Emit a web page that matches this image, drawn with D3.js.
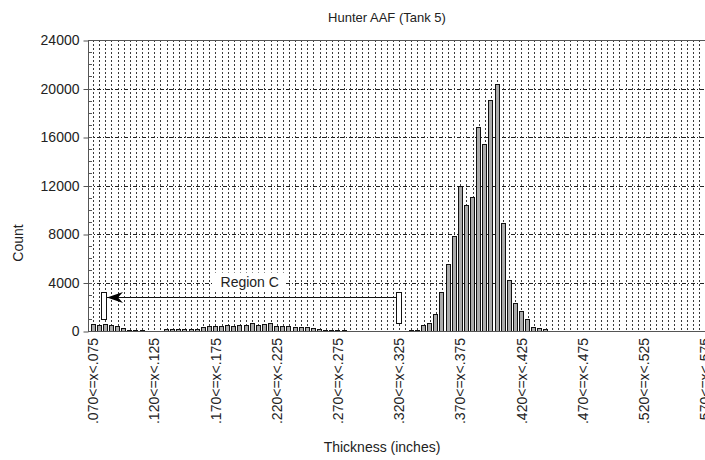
<!DOCTYPE html>
<html>
<head>
<meta charset="utf-8">
<script src="https://cdn.jsdelivr.net/npm/d3@7/dist/d3.min.js"></script>
<style>
  html, body { margin: 0; padding: 0; background: #fff; }
  svg { display: block; font-family: "Liberation Sans", Arial, sans-serif; }
</style>
</head>
<body>
<svg id="chart" width="705" height="460"></svg>
<script>
// ---- data (bins of width .005 starting at .070) ----
const binStart = 0.070;
const binWidth = 0.005;
const counts = [
  560, 470, 560, 500, 440, 250, 80, 70, 60, 40,
  40, 30, 140, 150, 160, 170, 150, 160, 300, 440,
  440, 440, 470, 440, 470, 470, 660, 470, 550, 660,
  385, 385, 385, 330, 330, 300, 220, 140, 110, 80,
  80, 55, 0, 0, 0, 0, 0, 0, 0, 0,
  30, 40, 60, 70, 500, 690, 1370, 3190, 5530, 7830,
  11990, 10360, 11020, 16790, 15420, 19050, 20370, 8880, 4200, 2340,
  1650, 990, 360, 280, 140, 40, 20, 0, 0, 0,
  0, 0, 0, 0, 0, 0, 0, 0, 0, 0,
  0, 0, 0, 0, 0, 0, 0, 0, 0, 0,
  0, 0, 0, 0
];
const tickLabels = [".070<=x<.075", ".120<=x<.125", ".170<=x<.175", ".220<=x<.225", ".270<=x<.275",
  ".320<=x<.325", ".370<=x<.375", ".420<=x<.425", ".470<=x<.475", ".520<=x<.525", ".570<=x<.575"];
const yTicks = [0, 4000, 8000, 12000, 16000, 20000, 24000];
const chartTitle = "Hunter AAF (Tank 5)";
const xTitle = "Thickness (inches)";
const yTitle = "Count";
// annotation (in bin-index / count units)
const regionLabel = "Region C";
const regionFrom = 50, regionTo = 2, regionLevel = 2830;

// ---- layout ----
const svg = d3.select("#chart");
const frameLeft = 88, plotTop = 40, plotBottom = 331;
const step = 6.12;
const n = counts.length;
const xStart = 90;
const categories = counts.map((_, i) => i);

const x = d3.scaleBand().domain(categories).range([xStart, xStart + step * n])
  .paddingInner(0.2).paddingOuter(0.1);
const xi = d3.scaleLinear().domain([0, n]).range([xStart, xStart + step * n]);
const y = d3.scaleLinear().domain([0, 24000]).range([plotBottom, plotTop]);
const plotRight = 720;

// vertical gridlines (one per bin)
svg.append("g").selectAll("line").data(categories).join("line")
  .attr("x1", d => Math.round(x(d) + x.bandwidth() / 2) + 0.5)
  .attr("x2", d => Math.round(x(d) + x.bandwidth() / 2) + 0.5)
  .attr("y1", plotTop).attr("y2", plotBottom)
  .attr("stroke", "#3a3a3a").attr("stroke-width", 1).attr("stroke-dasharray", "2,2");

// horizontal gridlines
svg.append("g").selectAll("line").data(yTicks.slice(1, -1)).join("line")
  .attr("x1", frameLeft).attr("x2", plotRight)
  .attr("y1", d => Math.round(y(d)) + 0.5).attr("y2", d => Math.round(y(d)) + 0.5)
  .attr("stroke", "#222").attr("stroke-width", 1).attr("stroke-dasharray", "4,2,1,2");

// bars
svg.append("g").selectAll("rect").data(categories.filter(i => counts[i] > 0)).join("rect")
  .attr("x", d => Math.round(x(d)) + 0.5)
  .attr("width", Math.round(x.bandwidth()) - 1)
  .attr("y", d => Math.round(y(counts[d])) + 0.5)
  .attr("height", d => Math.max(0, Math.round(plotBottom - y(counts[d]))))
  .attr("fill", "#ababab").attr("stroke", "#111").attr("stroke-width", 1);

// frame
svg.append("rect").attr("x", frameLeft + 0.5).attr("y", plotTop + 0.5)
  .attr("width", plotRight - frameLeft).attr("height", plotBottom - plotTop)
  .attr("fill", "none").attr("stroke", "#555").attr("stroke-width", 1);

// y axis (major ticks + labels)
const yAxis = d3.axisLeft(y).tickValues(yTicks).tickSize(5).tickPadding(4).tickFormat(d3.format("d"));
const gy = svg.append("g").attr("transform", `translate(${frameLeft + 0.5},0.5)`).call(yAxis);
gy.select(".domain").remove();
gy.selectAll(".tick line").attr("stroke", "#555");
gy.selectAll("text").attr("font-size", 14).attr("fill", "#222").attr("font-family", "Liberation Sans, Arial, sans-serif");
// minor ticks, inward
svg.append("g").selectAll("line").data(d3.range(1000, 24000, 1000)).join("line")
  .attr("x1", frameLeft).attr("x2", frameLeft + 4)
  .attr("y1", d => Math.round(y(d)) + 0.5).attr("y2", d => Math.round(y(d)) + 0.5)
  .attr("stroke", "#555");

// x axis labels
const labelCats = categories.filter(i => i % 10 === 0);
const xAxis = d3.axisBottom(x).tickValues(labelCats).tickSize(0).tickFormat(i => tickLabels[i / 10]);
const gx = svg.append("g").attr("transform", `translate(0,${plotBottom})`).call(xAxis);
gx.select(".domain").remove();
gx.selectAll("text")
  .attr("font-size", 14).attr("fill", "#222").attr("font-family", "Liberation Sans, Arial, sans-serif")
  .attr("transform", "rotate(-90)")
  .attr("text-anchor", "end")
  .attr("x", -7).attr("y", 0).attr("dy", "0.36em");

// annotation: Region C
const yl = Math.round(y(regionLevel)) + 0.5;
const ann = svg.append("g");
const leftEdge = xi(regionTo - 0.2), rightEdge = xi(regionFrom);
ann.append("line").attr("x1", leftEdge + 6).attr("x2", rightEdge).attr("y1", yl).attr("y2", yl)
  .attr("stroke", "#111").attr("stroke-width", 1);
const tipX = leftEdge + 6;
ann.append("path")
  .attr("d", `M${tipX},${yl} L${tipX + 16},${yl - 5.5} L${tipX + 11},${yl} L${tipX + 16},${yl + 5.5} Z`)
  .attr("fill", "#000");
ann.append("rect").attr("x", Math.round(leftEdge) + 0.5).attr("width", 5)
  .attr("y", Math.round(y(3240)) + 0.5).attr("height", Math.round(y(1050) - y(3240)))
  .attr("fill", "#fff").attr("stroke", "#111");
ann.append("rect").attr("x", Math.round(rightEdge) + 0.5).attr("width", 5)
  .attr("y", Math.round(y(3240)) + 0.5).attr("height", Math.round(y(690) - y(3240)))
  .attr("fill", "#fff").attr("stroke", "#111");
const lx = xi(26.1), ly = y(4080);
const lt = ann.append("text").attr("x", lx).attr("y", ly).attr("dy", "0.36em")
  .attr("text-anchor", "middle").attr("font-size", 14).attr("fill", "#222").text(regionLabel);
const bb = lt.node().getBBox();
ann.insert("rect", "text").attr("x", bb.x - 7).attr("y", bb.y - 1).attr("width", bb.width + 14).attr("height", bb.height + 2)
  .attr("fill", "#fff");

// titles
svg.append("text").attr("x", 387).attr("y", 22).attr("text-anchor", "middle")
  .attr("font-size", 13).attr("fill", "#222").text(chartTitle);
svg.append("text").attr("x", 382).attr("y", 452).attr("text-anchor", "middle")
  .attr("font-size", 14).attr("fill", "#222").text(xTitle);
svg.append("text").attr("transform", "translate(23,243) rotate(-90)").attr("text-anchor", "middle")
  .attr("font-size", 14).attr("fill", "#222").text(yTitle);
</script>
</body>
</html>
